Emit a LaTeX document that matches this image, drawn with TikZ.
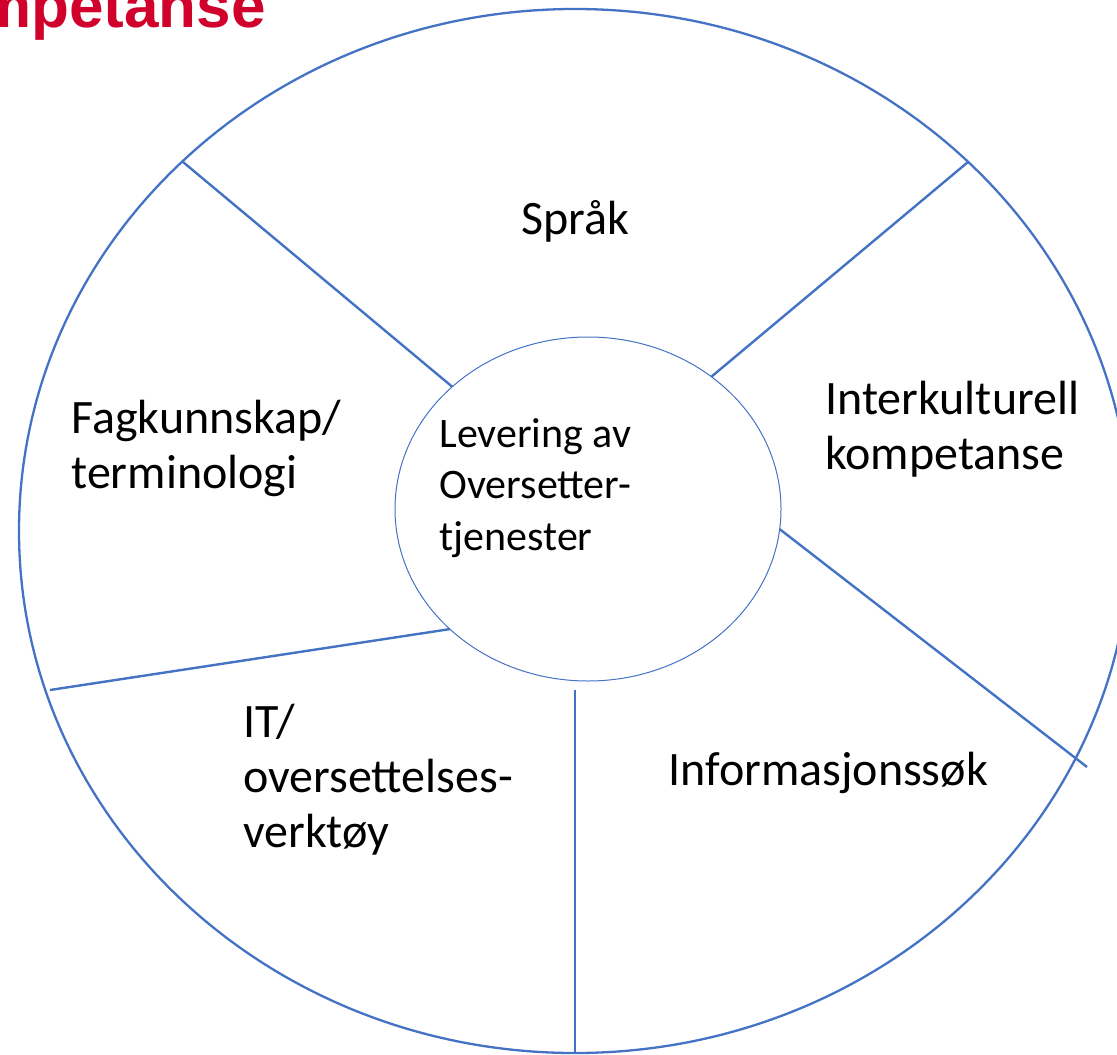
\documentclass[tikz,border=0pt]{standalone}
\usepackage{fontspec}
\setmainfont{Carlito}
\newfontfamily\headfont{Liberation Sans}
\usetikzlibrary{shapes.geometric}
\definecolor{wheelblue}{RGB}{68,114,196}
\definecolor{headred}{RGB}{208,2,44}
\newcommand\wheelfont[2]{\fontsize{#1}{#2}\selectfont\lineskiplimit-16000pt\relax}
\tikzset{
  rim/.style={draw=wheelblue, line width=1.15pt, ellipse, inner sep=0pt, outer sep=0pt},
  hub/.style={draw=wheelblue, line width=0.5pt, ellipse, inner sep=0pt, outer sep=0pt},
  spoke/.style={draw=wheelblue, line width=1.2pt},
  sector/.style={font=\wheelfont{24}{27.5}, align=left, inner sep=0pt, anchor=base west},
  hubtxt/.style={font=\wheelfont{21}{25.75}, align=left, inner sep=0pt, anchor=base west},
  head/.style={
    font=\headfont\bfseries\fontsize{31}{31}\selectfont,
    text=headred, inner sep=0pt, anchor=base east
  }
}
\begin{document}
\begin{tikzpicture}[x=0.5pt, y=-0.5pt]
  \useasboundingbox (0,0) rectangle (1117,1054);
  % heading, cut off at the left edge
  \node[head] (title) at (266,28) {mpetanse};
  % wheel
  \node[rim, minimum width=556pt, minimum height=522pt] (wheel) at (575,531) {};
  \node[hub, minimum width=193pt, minimum height=172pt] (hub) at (588,509) {};
  % spokes
  \coordinate (s1) at (183,162);
  \coordinate (s2) at (968,162);
  \coordinate (s3) at (1087,767);
  \coordinate (s4a) at (575,690);
  \coordinate (s4b) at (575,1053);
  \coordinate (s5) at (50,690);
  \draw[spoke] (s1) -- (hub.138.8);
  \draw[spoke] (s2) -- (hub.47.2);
  \draw[spoke] (hub.-6.8) -- (s3);
  \draw[spoke] (s4a) -- (s4b);
  \draw[spoke] (hub.221.2) -- (s5);
  % sectors (anchored at the baseline of the last line)
  \node[sector] (lang) at (521,234) {Språk};
  \node[sector] (intercult) at (825,469) {Interkulturell\\kompetanse};
  \node[sector] (search) at (668,785) {Informasjonssøk};
  \node[sector] (tools) at (243,847) {IT/\\oversettelses-\\verktøy};
  \node[sector] (domain) at (71,488) {Fagkunnskap/\\terminologi};
  % centre
  \node[hubtxt] (service) at (439,550) {Levering av\\Oversetter-\\tjenester};
\end{tikzpicture}
\end{document}
